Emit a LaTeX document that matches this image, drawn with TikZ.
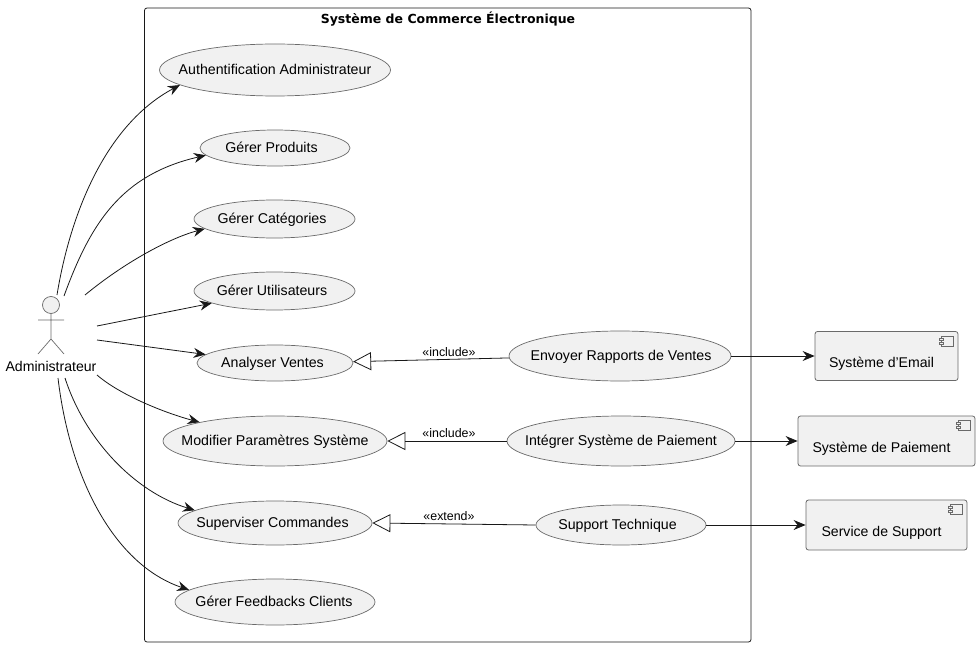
\documentclass[tikz,border=0pt]{standalone}
\usepackage{fontspec}
\setmainfont{Liberation Sans}
\newfontfamily\titlefont{DejaVu Sans}
\usetikzlibrary{arrows.meta,shapes.geometric}
\definecolor{ucfill}{HTML}{F1F1F1}
\definecolor{ucline}{HTML}{6A6A6A}
\definecolor{inkline}{HTML}{181818}
\newcommand{\uctext}[2][0pt]{\makebox[0pt]{\kern#1\kern#1\rule[-1.5pt]{0pt}{12.5pt}\smash{#2}}}
\tikzset{
  usecase/.style={ellipse,draw=ucline,fill=ucfill,line width=.7pt,inner sep=0pt,font=\fontsize{14.2}{16}\selectfont,text=black},
  component/.style={rectangle,rounded corners=2.5pt,draw=ucline,fill=ucfill,line width=.8pt,inner sep=0pt},
  complabel/.style={font=\fontsize{14.1}{16}\selectfont,text=black,inner sep=0pt},
  stereo/.style={font=\fontsize{12.4}{14}\selectfont,text=black,inner sep=0pt},
  assoc/.style={draw=inkline,line width=.8pt,-{Stealth[length=12pt,width=10pt,inset=4pt]}},
  incl/.style={draw=inkline,line width=.8pt,-{Triangle[open,length=18pt,width=18pt,fill=white]}}
}
\begin{document}
\begin{tikzpicture}[x=1pt,y=-1pt]
        \useasboundingbox (0,0) rectangle (980,647);
        % system box
        \draw[rounded corners=2.5pt,inkline,line width=.8pt] (144.5,8) rectangle (751,642);
        \node[inner sep=0pt,font=\titlefont\bfseries\fontsize{12.5}{16}\selectfont] (systitle) at (448,19) {Système de Commerce Électronique};
        % actor
        \draw[ucline,fill=ucfill,line width=.7pt] (51,305) circle (8.5);
        \draw[ucline,line width=.7pt] (51,314) -- (51,339) (38,320) -- (64,320) (38,354) -- (51,339) -- (64,354);
        \node[complabel] (admin) at (51,366) {Administrateur};
        \coordinate (a1) at (57,295);
        \coordinate (a2) at (64,296);
        \coordinate (a3) at (85,295);
        \coordinate (a4) at (97,326);
        \coordinate (a5) at (97,340);
        \coordinate (a6) at (97,375);
        \coordinate (a7) at (65,378);
        \coordinate (a8) at (58,378);
        % use cases
        \node[usecase,minimum width=231,minimum height=52] (auth) at (275,70) {\uctext{Authentification Administrateur}};
        \node[usecase,minimum width=150,minimum height=36] (produits) at (275,148) {\uctext[-3.5pt]{Gérer Produits}};
        \node[usecase,minimum width=161,minimum height=38] (categories) at (274.5,219) {\uctext[-2.5pt]{Gérer Catégories}};
        \node[usecase,minimum width=161,minimum height=38] (utilisateurs) at (274.5,291) {\uctext[-2.5pt]{Gérer Utilisateurs}};
        \node[usecase,minimum width=156,minimum height=36] (ventes) at (275,363) {\uctext[-2.5pt]{Analyser Ventes}};
        \node[usecase,minimum width=224,minimum height=50] (parametres) at (275,441) {\uctext{Modifier Paramètres Système}};
        \node[usecase,minimum width=194,minimum height=44] (commandes) at (275,523) {\uctext[-2.5pt]{Superviser Commandes}};
        \node[usecase,minimum width=200,minimum height=46] (feedbacks) at (275,602) {\uctext[-1pt]{Gérer Feedbacks Clients}};
        \node[usecase,minimum width=222,minimum height=50] (rapports) at (620,356) {\uctext[1pt]{Envoyer Rapports de Ventes}};
        \node[usecase,minimum width=228,minimum height=50] (paiement) at (621,441) {\uctext{Intégrer Système de Paiement}};
        \node[usecase,minimum width=170,minimum height=40] (support) at (621,525) {\uctext[-3.5pt]{Support Technique}};
        % components
        \node[component,minimum width=143,minimum height=49] (email) at (886.5,356) {};
        \node[component,minimum width=177,minimum height=50] (syspaie) at (886.5,441) {};
        \node[component,minimum width=161,minimum height=50] (servsup) at (886.5,525) {};
        \node[complabel] (emaillabel) at (881.5,363.2) {\uctext{Système d'Email}};
        \node[complabel] (syspaielabel) at (881.5,448.2) {\uctext{Système de Paiement}};
        \node[complabel] (servsuplabel) at (881.5,532.2) {\uctext{Service de Support}};
        \foreach \comp in {email,syspaie,servsup} {
          \draw[ucline,line width=.7pt,fill=ucfill] ([xshift=-17,yshift=-5]\comp.north east) rectangle ([xshift=-5,yshift=-15]\comp.north east);
          \draw[ucline,line width=.7pt,fill=ucfill] ([xshift=-19,yshift=-7]\comp.north east) rectangle ([xshift=-15,yshift=-9]\comp.north east);
          \draw[ucline,line width=.7pt,fill=ucfill] ([xshift=-19,yshift=-11]\comp.north east) rectangle ([xshift=-15,yshift=-13]\comp.north east);
        }
        % actor links
        \draw[assoc] (a1) .. controls (70,215) and (105,125) .. (auth.189.5);
        \draw[assoc] (a2) .. controls (90,225) and (120,175) .. (produits.186);
        \draw[assoc] (a3) .. controls (125,262) and (170,238) .. (categories.188.5);
        \draw[assoc] (a4) -- (utilisateurs.191);
        \draw[assoc] (a5) -- (ventes.173);
        \draw[assoc] (a6) .. controls (120,395) and (165,413) .. (parametres.166.5);
        \draw[assoc] (a7) .. controls (85,440) and (135,492) .. (commandes.171.5);
        \draw[assoc] (a8) .. controls (70,480) and (115,565) .. (feedbacks.172.5);
        % includes
        \draw[incl] (rapports.181) -- (ventes.1.5);
        \draw[incl] (paiement.west) -- (parametres.east);
        \draw[incl] (support.west) -- (commandes.east);
        \node[stereo] (incl1) at (449,352) {«include»};
        \node[stereo] (incl2) at (449,433) {«include»};
        \node[stereo] (ext1) at (449,516) {«extend»};
        % external systems
        \draw[assoc] (rapports.east) -- (email.west);
        \draw[assoc] (paiement.east) -- (syspaie.west);
        \draw[assoc] (support.east) -- (servsup.west);
      \end{tikzpicture}
\end{document}
